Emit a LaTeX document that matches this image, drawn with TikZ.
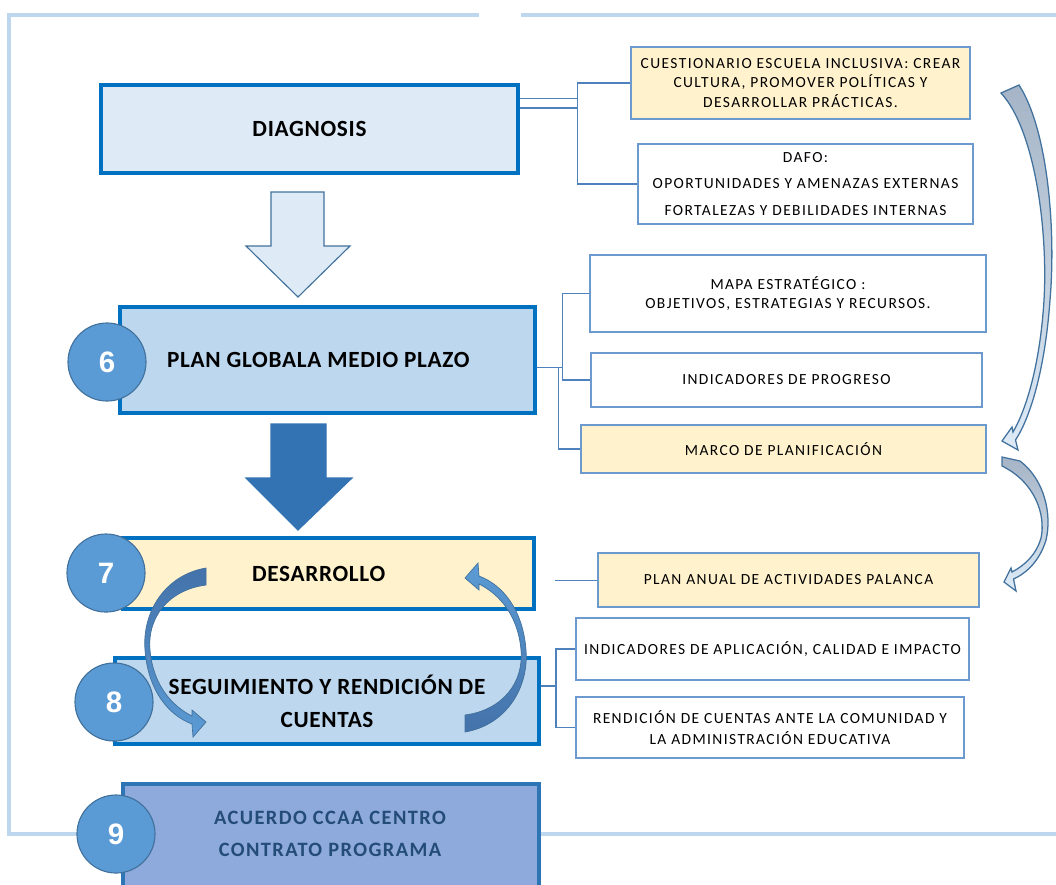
\documentclass[tikz,border=0pt]{standalone}
\usepackage{fontspec}
\setmainfont{Carlito}
\newfontfamily\numfont{Liberation Sans}
\newfontfamily\headfont{Carlito}[LetterSpace=3]
\newfontfamily\sidefont{Carlito}[LetterSpace=9]
\newfontfamily\acufont{Carlito}[LetterSpace=7]
\usetikzlibrary{calc,positioning}
\definecolor{boxblue}{RGB}{0,112,192}
\definecolor{paleblue}{RGB}{222,235,247}
\definecolor{midblue}{RGB}{189,215,238}
\definecolor{paleyellow}{RGB}{255,242,204}
\definecolor{sideedge}{RGB}{108,153,206}
\definecolor{linkblue}{RGB}{79,129,189}
\definecolor{circblue}{RGB}{91,155,213}
\definecolor{circedge}{RGB}{65,113,156}
\definecolor{framecol}{RGB}{189,215,238}
\definecolor{acufill}{RGB}{142,169,219}
\definecolor{acuedge}{RGB}{46,117,182}
\definecolor{acutxt}{RGB}{36,76,120}
\definecolor{arrowdark}{RGB}{51,115,180}
\definecolor{arrowgray}{RGB}{165,180,198}
\definecolor{loopdark}{RGB}{68,114,170}

\begin{document}
\begin{tikzpicture}[x=0.025cm,y=-0.025cm,
		mainbox/.style={draw=boxblue,line width=3pt,align=center,inner sep=2pt,font=\headfont\bfseries\fontsize{16.5}{23.5}\selectfont},
		sidebox/.style={draw=sideedge,fill=white,line width=1.1pt,align=center,inner sep=1pt,font=\sidefont\fontsize{11}{13}\selectfont},
		stepnum/.style={circle,draw=circedge,fill=circblue,line width=0.8pt,minimum size=1.95cm,text=white,font=\numfont\bfseries\fontsize{21}{21}\selectfont},
		acutext/.style={align=center,text=acutxt,font=\acufont\bfseries\fontsize{14.5}{22.8}\selectfont},
		link/.style={draw=linkblue,line width=1pt},
		framerule/.style={draw=framecol,line width=2.2pt},
		hollowblock/.style={fill=paleblue,draw=circedge,line width=0.8pt},
		solidblock/.style={fill=arrowdark,draw=arrowdark,line width=0.8pt},
		sidearrow/.style={draw=circedge,line width=0.9pt,top color=arrowgray,bottom color=paleblue},
		looparrow/.style={draw=circedge,line width=0.5pt}]
		\useasboundingbox (0,0) rectangle (1056,884);
		\clip (0,0) rectangle (1056,884);
		% outer frame
		\draw[framerule] (479,15) -- (9,15) -- (9,834) -- (1060,834);
		\draw[framerule] (521,15) -- (1060,15);
		% main column
		\node[mainbox,fill=paleblue,minimum width=10.43cm,minimum height=2.2cm] (diag) at (309.5,129) {DIAGNOSIS};
		\node[mainbox,fill=midblue,minimum width=10.38cm,minimum height=2.65cm] (plan) at (327.5,360) {PLAN GLOBALA MEDIO PLAZO\hspace*{13pt}};
		\node[mainbox,fill=paleyellow,minimum width=10.28cm,minimum height=1.78cm] (desa) at (328.5,573.5) {DESARROLLO\hspace*{14pt}};
		\node[mainbox,fill=midblue,minimum width=10.6cm,minimum height=2.15cm] (segu) at (327,701) {SEGUIMIENTO Y RENDICIÓN DE\\CUENTAS};
		\node[mainbox,draw=acuedge,fill=acufill,minimum width=10.4cm,minimum height=3.45cm,anchor=north] (acue) at (331,782) {};
		\node[acutext] (acuetxt) at (330,834) {ACUERDO CCAA CENTRO\\CONTRATO PROGRAMA};
		% step numbers
		\node[stepnum] (n6) at (107,362) {6};
		\node[stepnum] (n7) at (106,573) {7};
		\node[stepnum] (n8) at (114,702) {8};
		\node[stepnum] (n9) at (116,834) {9};
		% right column
		\node[sidebox,fill=paleyellow,minimum width=8.48cm,minimum height=1.8cm] (cues) at (800.5,83) {CUESTIONARIO ESCUELA INCLUSIVA: CREAR\\[1pt]CULTURA, PROMOVER POLÍTICAS Y\\[1pt]DESARROLLAR PRÁCTICAS.};
		\node[sidebox,minimum width=8.38cm,minimum height=2cm] (dafo) at (805.5,184) {DAFO:\\[6pt]OPORTUNIDADES Y AMENAZAS EXTERNAS\\[6pt]FORTALEZAS Y DEBILIDADES INTERNAS};
		\node[sidebox,minimum width=9.9cm,minimum height=1.93cm] (mapa) at (788,293.5) {MAPA ESTRATÉGICO :\\OBJETIVOS, ESTRATEGIAS Y RECURSOS.};
		\node[sidebox,minimum width=9.78cm,minimum height=1.35cm] (indp) at (786.5,380) {INDICADORES DE PROGRESO};
		\node[sidebox,fill=paleyellow,minimum width=10.13cm,minimum height=1.2cm] (marco) at (783.5,449) {MARCO DE PLANIFICACIÓN};
		\node[sidebox,fill=paleyellow,minimum width=9.53cm,minimum height=1.35cm] (plana) at (788.5,580) {PLAN ANUAL DE ACTIVIDADES PALANCA};
		\node[sidebox,minimum width=9.83cm,minimum height=1.55cm] (inda) at (772.5,649) {INDICADORES DE APLICACIÓN, CALIDAD E IMPACTO};
		\node[sidebox,minimum width=9.7cm,minimum height=1.53cm] (rend) at (770,727.5) {RENDICIÓN DE CUENTAS ANTE LA COMUNIDAD Y\\[2pt]LA ADMINISTRACIÓN EDUCATIVA};
		% connectors
		\draw[link,double=white,double distance=6pt] (diag.7) -- ++(57,0) coordinate (dsplit);
		\draw[link] (dsplit) |- (cues.west);
		\draw[link] (dsplit) |- (dafo.west);
		\draw[link] (plan.-2) -- ++(25,0) |- (mapa.west);
		\draw[link] (plan.-2) -- ++(25,0) |- (indp.west);
		\draw[link] (plan.-2) -- ++(21,0) |- (marco.west);
		\draw[link,shorten <=13.5pt] (desa.-2) -- (desa.-2 -| plana.west);
		\draw[link] (segu.4) -- ++(15,0) |- (inda.west);
		\draw[link] (segu.4) -- ++(15,0) |- (rend.west);
		% block arrows
		\draw[hollowblock] (271,192) -- (324,192) -- (324,246) -- (350,246) -- (298,297) -- (246,246) -- (271,246) -- cycle;
		\draw[solidblock] (271,424) -- (326,424) -- (326,478) -- (352,478) -- (298,530) -- (246,478) -- (271,478) -- cycle;
		% curved arrows on the right
		\draw[sidearrow] (1019,85) .. controls (1048,130) and (1056,230) .. (1050,300)
			.. controls (1045,370) and (1030,418) .. (1015.5,440) -- (1018,450) -- (1002,441) -- (1012,427) -- (1013,432)
			.. controls (1026,410) and (1040,365) .. (1044,300) .. controls (1048,230) and (1035,130) .. (1001,93) -- cycle;
		\draw[sidearrow] (1020,461) .. controls (1045,480) and (1052,515) .. (1046,540)
			.. controls (1040,560) and (1027,573) .. (1013.5,579) -- (1016,591) -- (1004,582) -- (1011,568) -- (1012,572)
			.. controls (1025,565) and (1036,555) .. (1041,538) .. controls (1046,515) and (1035,482) .. (1002,466) -- (1002,457) -- cycle;
		% loop between DESARROLLO and SEGUIMIENTO
		\draw[looparrow,top color=loopdark,bottom color=circblue] (206,568) .. controls (165,575) and (142,612) .. (145,650)
			.. controls (148,690) and (168,715) .. (192,724) -- (193,737) -- (206,722) -- (192,710) -- (192,716)
			.. controls (172,706) and (153,685) .. (150,650) .. controls (147,618) and (168,590) .. (206,585) -- cycle;
		\draw[looparrow,top color=circblue,bottom color=loopdark] (465,732) .. controls (506,725) and (529,688) .. (526,650)
			.. controls (523,610) and (503,585) .. (479,576) -- (478,563) -- (465,578) -- (479,590) -- (479,584)
			.. controls (499,594) and (518,615) .. (521,650) .. controls (524,682) and (503,710) .. (465,715) -- cycle;
\end{tikzpicture}
\end{document}
